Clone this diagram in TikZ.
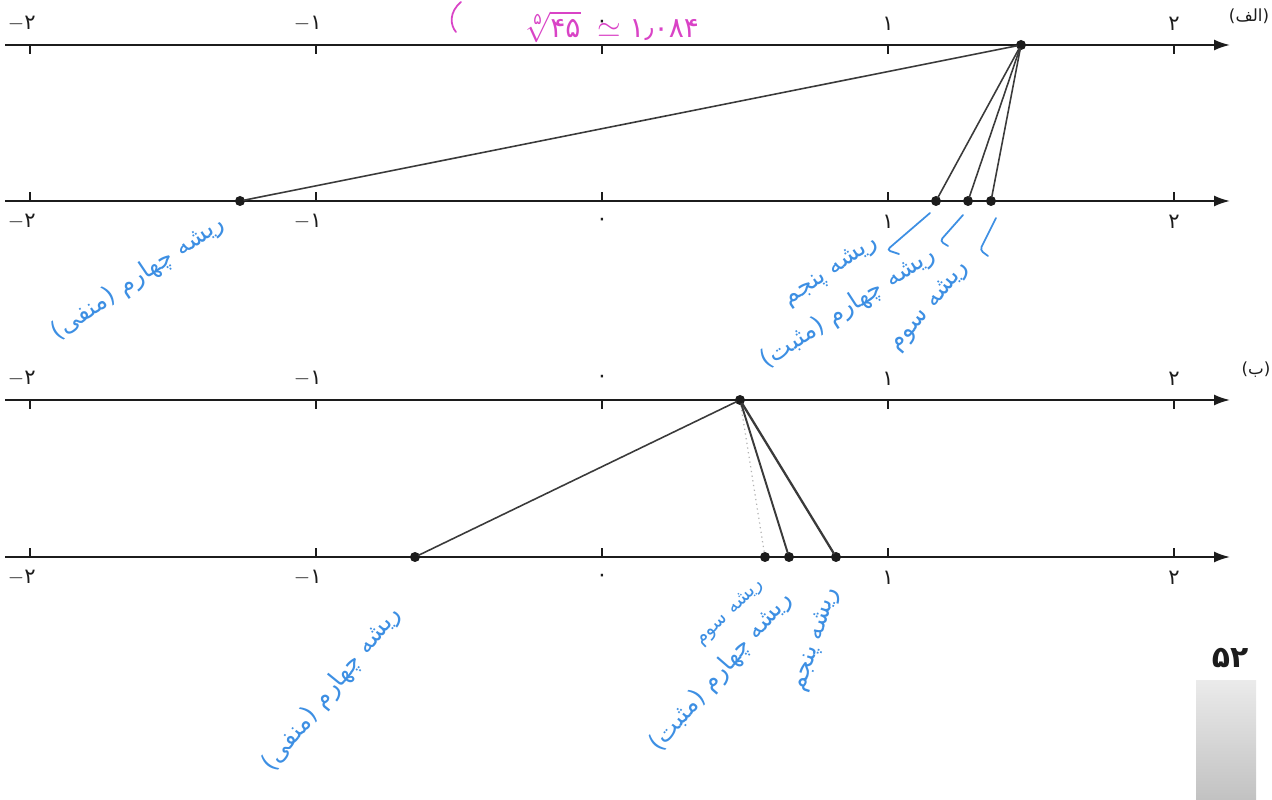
\documentclass[tikz,border=0pt]{standalone}
\usepackage{fontspec}
\usetikzlibrary{arrows.meta}
\TeXXeTstate=1
\newfontfamily\farsi[Script=Arabic]{DejaVu Sans}
\definecolor{lineink}{HTML}{1C1C1C}
\definecolor{chordgray}{HTML}{3A3A3A}
\definecolor{penblue}{HTML}{3D8FE3}
\definecolor{penpink}{HTML}{D943C6}

\begin{document}
\begin{tikzpicture}[
  x=0.02cm, y=-0.02cm,
  axis/.style={draw=lineink, line width=1.1pt, -{Latex[length=3.2mm,width=2.2mm]}},
  ticmark/.style={draw=lineink, line width=1.1pt},
  digit/.style={font=\farsi\fontsize{12}{14}\selectfont, text=lineink, inner sep=1pt},
  partlab/.style={font=\farsi\fontsize{9.5}{11}\selectfont, text=lineink, inner sep=1pt},
  rootdot/.style={circle, fill=lineink, inner sep=0pt, minimum size=2mm},
  chord/.style={draw=chordgray, line width=0.9pt, shorten <=-1pt, shorten >=-1pt},
  faint/.style={draw=gray!60, line width=0.7pt, dotted},
  pen/.style={font=\farsi\fontsize{14}{16}\selectfont, text=penblue, inner sep=0pt},
  hookline/.style={draw=penblue, line width=1pt, line cap=round, rounded corners=2pt},
]
\useasboundingbox (0,0) rectangle (1272,800);

% origin and unit of every number line
\def\xO{602}
\def\un{286}

% ---- number lines ----
\foreach \yy/\nm in {45/a, 201/c, 400/b, 557/d}{
  \coordinate (L\nm) at (5,\yy);
  \coordinate (R\nm) at (1230,\yy);
  \draw[axis] (L\nm) -- (R\nm);
}

% ticks: upper lines point down with labels above, lower lines the other way
\foreach \yy/\dd in {45/1, 201/-1, 400/1, 557/-1}{
  \foreach \v/\txt in {-2/{\llap{$-$}۲}, -1/{\llap{$-$}۱}, 0/{۰}, 1/{۱}, 2/{۲}}{
    \draw[ticmark] (\xO+\v*\un,\yy) -- ++(0,9*\dd);
    \node[digit] (n\yy\v) at (\xO+\v*\un,\yy-21*\dd) {\txt};
  }
}

\node[partlab] (partA) at (1249,16) {\beginR(الف)\endR};
\node[partlab] (partB) at (1256,370) {\beginR(ب)\endR};

% ---- part (a) ----
\node[rootdot] (a0) at (1021,45) {};
\node[rootdot] (a1) at (240,201) {};
\node[rootdot] (a2) at (936,201) {};
\node[rootdot] (a3) at (968,201) {};
\node[rootdot] (a4) at (991,201) {};
\foreach \k in {1,...,4} \draw[chord] (a0) -- (a\k);

% ---- part (b) ----
\node[rootdot] (b0) at (740,400) {};
\node[rootdot] (b1) at (415,557) {};
\node[rootdot] (b2) at (765,557) {};
\node[rootdot] (b3) at (789,557) {};
\node[rootdot] (b4) at (836,557) {};
\draw[chord] (b0) -- (b1);
\draw[faint] (b0) -- (b2);
\draw[chord, line width=1.1pt] (b0) -- (b3);
\draw[chord, line width=1.3pt] (b0) -- (b4);

% ---- handwritten notes ----
\node[font=\fontsize{16}{18}\selectfont, text=penpink, inner sep=0pt] (note) at (612,27)
  {$\sqrt[\hbox{\farsi\fontsize{9}{10}\selectfont ۵}]{\hbox{\farsi ۴۵}}\;\simeq\;$\hbox{\farsi ۱٫۰۸۴}};
\draw[penpink, line width=1pt, line cap=round] (461,2) .. controls (449,12) and (450,25) .. (456,32);

\node[pen, rotate=34] (hA1) at (138,278) {\beginR ریشه چهارم (منفی)\endR};
\node[pen, rotate=34] (hA5) at (831,272) {\beginR ریشه پنجم\endR};
\node[pen, rotate=33] (hA4) at (848,308) {\beginR ریشه چهارم (مثبت)\endR};
\node[pen, rotate=50] (hA3) at (930,307) {\beginR ریشه سوم\endR};
\draw[hookline] (930,213) -- (887,250) -- (899,254);
\draw[hookline] (963,215) -- (940,241) -- (948,246);
\draw[hookline] (996,218) -- (980,250) -- (988,256);

\node[pen, rotate=51] (hB1) at (332,689) {\beginR ریشه چهارم (منفی)\endR};
\node[pen, rotate=44, font=\farsi\fontsize{11}{13}\selectfont] (hB3) at (730,613) {\beginR ریشه سوم\endR};
\node[pen, rotate=49] (hB4) at (721,672) {\beginR ریشه چهارم (مثبت)\endR};
\node[pen, rotate=72] (hB5) at (816,640) {\beginR ریشه پنجم\endR};

% ---- page tab ----
\shade[top color=black!8, bottom color=black!24] (1196,680) rectangle (1256,800);
\node[font=\farsi\bfseries\fontsize{17}{19}\selectfont, text=lineink] (page) at (1230,658) {۵۲};

\end{tikzpicture}
\end{document}
